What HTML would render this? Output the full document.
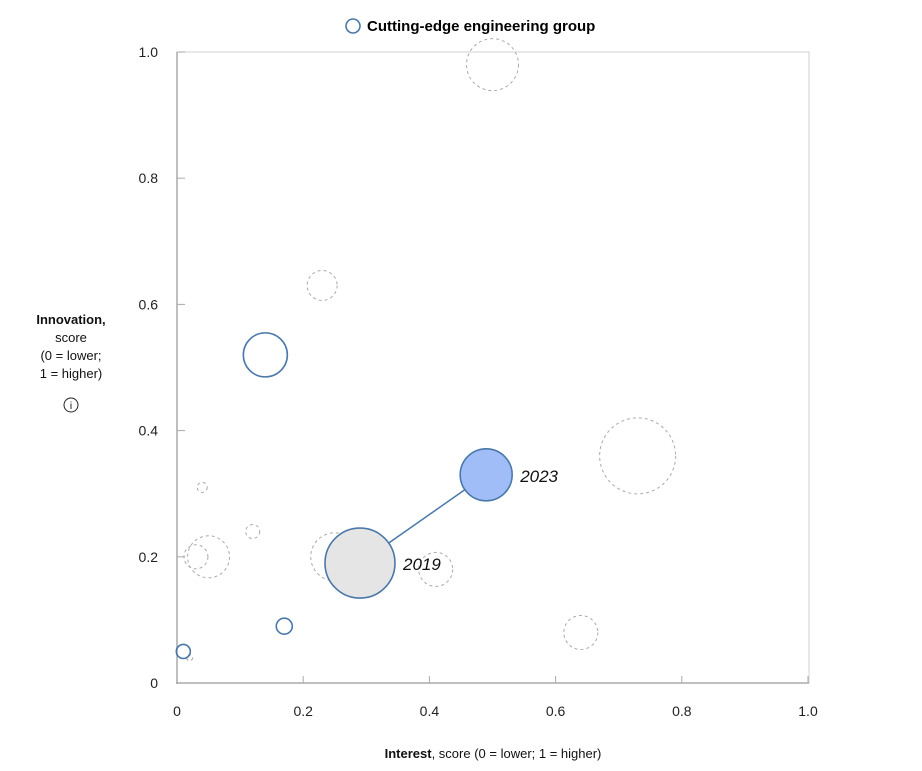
<!DOCTYPE html>
<html><head><meta charset="utf-8"><style>
body{margin:0;background:#fff;font-family:"Liberation Sans",sans-serif;}
svg text{font-family:"Liberation Sans",sans-serif;}
</style></head><body>
<svg width="922" height="766">
<g>
<circle cx="353" cy="26" r="7" fill="none" stroke="#4a78a8" stroke-width="1.6"/>
<text x="367" y="31" font-size="15" font-weight="bold" fill="#000">Cutting-edge engineering group</text>
</g>
<rect x="177" y="52" width="632" height="631" fill="none" stroke="#d0d0d0"/>
<line x1="177" y1="52" x2="177" y2="684" stroke="#aaa" stroke-width="1.5"/>
<line x1="176" y1="683" x2="809" y2="683" stroke="#aaa" stroke-width="1.5"/>
<g id="ticks"></g>
<g id="marks"></g>
<g font-size="13" text-anchor="middle" fill="#111">
<text x="71" y="324" font-weight="bold">Innovation,</text>
<text x="71" y="342">score</text>
<text x="71" y="360">(0 = lower;</text>
<text x="71" y="378">1 = higher)</text>
</g>
<g>
<circle cx="71" cy="405" r="7" fill="none" stroke="#222" stroke-width="1"/>
<text x="71" y="409" font-size="10" text-anchor="middle">i</text>
</g>
<text x="493" y="758" font-size="13" text-anchor="middle" fill="#111"><tspan font-weight="bold">Interest</tspan>, score (0 = lower; 1 = higher)</text>
</svg>
<script>
const xTicks=[0,0.2,0.4,0.6,0.8,1.0];
const xTickLabels=["0","0.2","0.4","0.6","0.8","1.0"];
const yTicks=[0,0.2,0.4,0.6,0.8,1.0];
const yTickLabels=["0","0.2","0.4","0.6","0.8","1.0"];
const otherX=[0.5,0.23,0.73,0.04,0.12,0.05,0.03,0.25,0.41,0.64,0.02];
const otherY=[0.98,0.63,0.36,0.31,0.24,0.2,0.2,0.2,0.18,0.08,0.04];
const otherSize=[26,15,38,5,7,21,12,24,17,17,3];
const groupX=[0.14,0.17,0.01];
const groupY=[0.52,0.09,0.05];
const groupSize=[22,8,7];
const trailYears=["2019","2023"];
const trailX=[0.29,0.49];
const trailY=[0.19,0.33];
const trailSize=[35,26];
const NS="http://www.w3.org/2000/svg";
const sx=v=>177+631*v, sy=v=>683-631*v;
function mk(t,a,p){const e=document.createElementNS(NS,t);for(const k in a)e.setAttribute(k,a[k]);p.appendChild(e);return e;}
const T=document.getElementById('ticks'),M=document.getElementById('marks');
xTicks.forEach((v,i)=>{
 const l=mk('line',{x1:sx(v),x2:sx(v),y1:676,y2:683,stroke:'#aaa'},T);
 
 
 const t=mk('text',{x:sx(v),y:716,'font-size':14,'text-anchor':'middle',fill:'#222'},T);t.textContent=xTickLabels[i];
 
 
});
yTicks.forEach((v,i)=>{
 const l=mk('line',{x1:177,x2:185,y1:sy(v),y2:sy(v),stroke:'#aaa'},T);
 
 
 const t=mk('text',{x:158,y:sy(v)+5,'font-size':14,'text-anchor':'end',fill:'#222'},T);t.textContent=yTickLabels[i];
 
 
});
otherX.forEach((v,i)=>{
 const c=mk('circle',{cx:sx(v),cy:sy(otherY[i]),r:otherSize[i],fill:'none',stroke:'#aaa','stroke-dasharray':'3,3'},M);
 
 
});
groupX.forEach((v,i)=>{
 const c=mk('circle',{cx:sx(v),cy:sy(groupY[i]),r:groupSize[i],fill:'none',stroke:'#4a78a8','stroke-width':1.6},M);
 
 
});
const ln=mk('line',{x1:sx(trailX[0]),y1:sy(trailY[0]),x2:sx(trailX[1]),y2:sy(trailY[1]),stroke:'#4a78a8','stroke-width':1.5},M);


const fills=['#e5e5e5','#a0bdf8'];
trailX.forEach((v,i)=>{
 const c=mk('circle',{cx:sx(v),cy:sy(trailY[i]),r:trailSize[i],fill:fills[i],stroke:'#4a78a8','stroke-width':1.6},M);
 
 
 const t=mk('text',{x:sx(v)+trailSize[i]+8,y:sy(trailY[i])+7,'font-size':17,'font-style':'italic',fill:'#111'},M);t.textContent=trailYears[i];
 
 
});
</script>
</body></html>
